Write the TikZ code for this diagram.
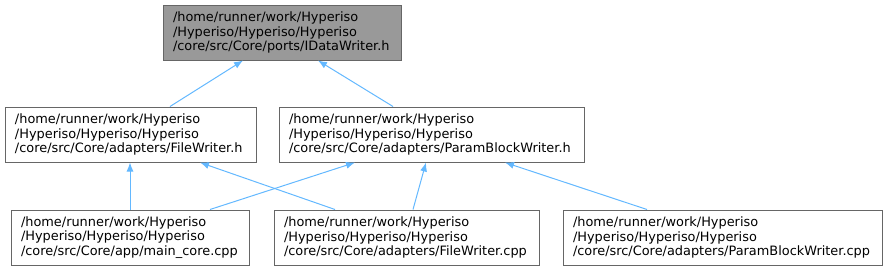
\documentclass[tikz,border=0pt]{standalone}
\usepackage{fontspec}
\setmainfont{DejaVu Sans}
\usepackage{xcolor}
\usetikzlibrary{
  calc,
  positioning,
  arrows.meta
}
\definecolor{boxline}{HTML}{666666}
\definecolor{focusfill}{HTML}{999999}
\definecolor{depline}{HTML}{63B8FF}

\begin{document}
\begin{tikzpicture}[x=1pt, y=-1pt, >={Latex[length=9pt,width=7pt]}]
  \tikzset{
    file box/.style={
      draw=boxline, line width=1pt, fill=white, align=left,
      inner xsep=10pt, inner ysep=0pt, minimum height=55pt,
      font=\fontsize{12.9}{14.7}\selectfont
    },
    focus box/.style={file box, fill=focusfill},
    dep/.style={draw=depline, line width=1pt, ->}
    % every node/.style={font=\large}
  }

  \useasboundingbox (0,0) rectangle (887,271);

  % header under focus
  \node[focus box, text width=218pt] (idw) at (282,32.5)
    {/home/runner/work/Hyperiso\\/Hyperiso/Hyperiso/Hyperiso\\/core/src/Core/ports/IDataWriter.h};

  % adapters
  \node[file box, text width=231pt] (fwh) at (130.5,134.5)
    {/home/runner/work/Hyperiso\\/Hyperiso/Hyperiso/Hyperiso\\/core/src/Core/adapters/FileWriter.h};
  \node[file box, text width=285pt] (pbwh) at (431.5,134.5)
    {/home/runner/work/Hyperiso\\/Hyperiso/Hyperiso/Hyperiso\\/core/src/Core/adapters/ParamBlockWriter.h};

  % sources
  \node[file box, text width=218pt] (main) at (130,237.5)
    {/home/runner/work/Hyperiso\\/Hyperiso/Hyperiso/Hyperiso\\/core/src/Core/app/main\_core.cpp};
  \node[file box, text width=245pt] (fwcpp) at (406.5,237.5)
    {/home/runner/work/Hyperiso\\/Hyperiso/Hyperiso/Hyperiso\\/core/src/Core/adapters/FileWriter.cpp};
  \node[file box, text width=299pt] (pbwcpp) at (722.5,237.5)
    {/home/runner/work/Hyperiso\\/Hyperiso/Hyperiso/Hyperiso\\/core/src/Core/adapters/ParamBlockWriter.cpp};

  \draw[dep] ([xshift=39.5pt]fwh.north) -- ([xshift=-39pt]idw.south);
  \draw[dep] ([xshift=-38.5pt]pbwh.north) -- ([xshift=36pt]idw.south);

  \draw[dep] (main.north) -- (main.north |- fwh.south);
  \draw[dep] ([xshift=-71.5pt]fwcpp.north) -- ([xshift=69.5pt]fwh.south);
  \draw[dep] ([xshift=80pt]main.north) -- ([xshift=-76.5pt]pbwh.south);
  \draw[dep] ([xshift=6.5pt]fwcpp.north) -- ([xshift=-5.5pt]pbwh.south);
  \draw[dep] ([xshift=-75.5pt]pbwcpp.north) -- ([xshift=73.5pt]pbwh.south);
\end{tikzpicture}
\end{document}
